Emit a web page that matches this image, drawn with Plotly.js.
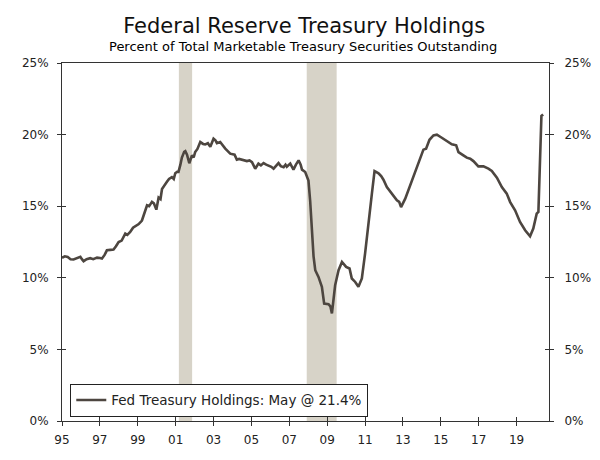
<!DOCTYPE html>
<html>
<head>
<meta charset="utf-8">
<script src="https://cdn.plot.ly/plotly-3.0.1.min.js"></script>
<style>html,body{margin:0;padding:0;background:#fff;}#chart{width:600px;height:460px;}</style>
</head>
<body>
<div id="chart"></div>
<script>
// Decimal-year dates and Fed share (%) of marketable Treasuries
const dates = [
 1995.0,1995.15,1995.3,1995.45,1995.61,1995.8,1995.97,1996.05,1996.14,1996.3,1996.49,1996.65,1996.85,
 1997.0,1997.11,1997.25,1997.37,1997.55,1997.72,1997.85,1997.99,1998.15,1998.34,1998.45,1998.6,1998.75,1998.87,
 1999.05,1999.22,1999.35,1999.49,1999.6,1999.75,1999.85,1999.98,2000.1,2000.2,2000.28,2000.4,2000.54,2000.65,
 2000.8,2000.9,2000.98,2001.08,2001.15,2001.25,2001.33,2001.45,2001.51,2001.6,2001.72,2001.86,2001.95,2002.03,
 2002.15,2002.3,2002.45,2002.56,2002.7,2002.83,2003.0,2003.1,2003.18,2003.35,2003.5,2003.62,2003.75,2003.88,
 2004.11,2004.23,2004.35,2004.5,2004.65,2004.76,2004.9,2005.03,2005.2,2005.3,2005.37,2005.5,2005.64,2005.78,
 2005.9,2006.05,2006.17,2006.3,2006.43,2006.55,2006.7,2006.8,2006.87,2007.05,2007.22,2007.35,2007.49,2007.6,
 2007.67,2007.84,2007.93,2008.01,2008.1,2008.19,2008.28,2008.37,2008.54,2008.72,2008.84,2009.07,2009.17,2009.25,
 2009.35,2009.42,2009.6,2009.78,2010.0,2010.18,2010.3,2010.48,2010.65,2010.83,2011.0,2011.18,2011.36,2011.5,
 2011.6,2011.71,2011.85,2011.97,2012.15,2012.32,2012.5,2012.68,2012.8,2012.9,2013.12,2013.38,2013.64,2013.91,
 2014.08,2014.22,2014.4,2014.61,2014.79,2015.05,2015.32,2015.58,2015.81,2015.93,2016.19,2016.37,2016.55,2016.72,
 2016.98,2017.25,2017.51,2017.69,2017.96,2018.22,2018.48,2018.66,2018.92,2019.18,2019.45,2019.71,2019.88,
 2020.06,2020.15,2020.25,2020.31,2020.4
];
const fedShare = [
 11.4,11.5,11.45,11.3,11.28,11.4,11.46,11.3,11.16,11.3,11.37,11.3,11.41,
 11.38,11.34,11.6,11.92,11.95,11.97,12.2,12.5,12.6,13.09,13.0,13.2,13.5,13.6,
 13.75,14.0,14.6,15.06,15.0,15.3,15.2,14.76,15.6,15.5,16.2,16.4,16.7,16.9,
 17.03,16.9,17.3,17.4,17.4,17.9,18.4,18.8,18.85,18.6,18.0,18.55,18.4,18.78,
 19.0,19.48,19.35,19.32,19.4,19.15,19.71,19.6,19.4,19.48,19.2,19.02,18.85,18.67,
 18.6,18.25,18.3,18.25,18.2,18.15,18.2,18.08,17.62,17.8,17.97,17.85,18.01,17.9,
 17.85,17.75,17.62,17.85,18.01,17.8,17.73,17.9,17.75,17.97,17.55,17.9,18.2,17.9,
 17.55,17.39,17.0,16.8,15.4,13.09,11.5,10.53,10.06,9.37,8.2,8.16,8.0,7.51,
 8.8,9.48,10.53,11.11,10.76,10.65,9.95,9.71,9.37,9.95,11.69,14.02,15.88,17.45,
 17.4,17.3,17.1,16.85,16.34,16.06,15.76,15.41,15.3,14.94,15.53,16.46,17.5,18.32,
 18.95,19.02,19.64,19.94,19.99,19.78,19.55,19.32,19.25,18.78,18.55,18.39,18.32,18.15,
 17.78,17.78,17.62,17.46,16.99,16.34,15.88,15.29,14.71,13.9,13.32,12.9,13.44,
 14.48,14.6,18.5,21.3,21.4
];
// Recessions (decimal years)
const recessionStart = [2001.17, 2007.92];
const recessionEnd   = [2001.87, 2009.5];
// Axis ticks
const xTickVals = [1995,1997,1999,2001,2003,2005,2007,2009,2011,2013,2015,2017,2019];
const xTickText = ['95','97','99','01','03','05','07','09','11','13','15','17','19'];
const yTickVals = [0,5,10,15,20,25];
const yTickText = ['0%','5%','10%','15%','20%','25%'];
const seriesName = 'Fed Treasury Holdings: May @ 21.4%';
const titleText = 'Federal Reserve Treasury Holdings';
const subtitleText = 'Percent of Total Marketable Treasury Securities Outstanding';

const FONT = 'DejaVu Sans, Verdana, sans-serif';
const AX = '#333333';
const xRange = [1995, 2020.71];
const yRange = [0, 25];

const traces = [{
  x: dates, y: fedShare, type: 'scatter', mode: 'lines', name: seriesName,
  line: {color: '#4d4640', width: 2.6}, hoverinfo: 'x+y'
}];
// invisible companions so the overlay (tick / right-side) axes get drawn
[['x2','y'],['x','y2'],['x','y3'],['x','y4']].forEach(([xa, ya]) => {
  traces.push({x: dates, y: fedShare, xaxis: xa, yaxis: ya, type: 'scatter', mode: 'lines',
    line: {width: 0, color: 'rgba(0,0,0,0)'}, showlegend: false, hoverinfo: 'skip'});
});

const shapes = recessionStart.map((s, i) => ({
  type: 'rect', xref: 'x', yref: 'paper', x0: s, x1: recessionEnd[i], y0: 0, y1: 1,
  fillcolor: '#d7d3c8', line: {width: 0}, layer: 'below'
}));

const baseY = {range: yRange, tickmode: 'array', tickvals: yTickVals, showgrid: false, zeroline: false, fixedrange: true};
const baseX = {range: xRange, tickmode: 'array', tickvals: xTickVals, showgrid: false, zeroline: false, fixedrange: true};

const layout = {
  width: 600, height: 460,
  margin: {l: 62, r: 51, t: 63, b: 39},
  paper_bgcolor: '#ffffff', plot_bgcolor: '#ffffff',
  font: {family: FONT, size: 12, color: '#222222'},
  showlegend: true,
  legend: {x: 0.017, y: 0.012, xanchor: 'left', yanchor: 'bottom', bgcolor: '#ffffff',
           bordercolor: '#222222', borderwidth: 1, itemwidth: 30,
           font: {family: FONT, size: 13.5, color: '#222222'}, tracegroupgap: 0},
  title: {text: titleText, x: 0.507, xanchor: 'center', y: 0.944, yanchor: 'middle',
          yref: 'container', font: {family: FONT, size: 21, color: '#111111'}},
  annotations: [{text: subtitleText, xref: 'paper', yref: 'paper', x: 0.494, y: 1.045,
          xanchor: 'center', yanchor: 'middle', showarrow: false,
          font: {family: FONT, size: 13, color: '#000000'}}],
  xaxis: Object.assign({}, baseX, {ticktext: xTickText, ticks: 'outside', ticklen: 4, tickcolor: AX,
          showline: true, linecolor: AX, linewidth: 1, mirror: true, ticklabelstandoff: 4,
          tickfont: {family: FONT, size: 12, color: '#222222'}}),
  xaxis2: Object.assign({}, baseX, {overlaying: 'x', anchor: 'y', side: 'bottom', ticks: 'inside', ticklen: 4,
          tickcolor: AX, showticklabels: false, showline: false}),
  yaxis: Object.assign({}, baseY, {ticktext: yTickText, ticks: 'outside', ticklen: 4, tickcolor: AX,
          showline: true, linecolor: AX, linewidth: 1, ticklabelstandoff: 6,
          tickfont: {family: FONT, size: 12, color: '#222222'}}),
  yaxis2: Object.assign({}, baseY, {overlaying: 'y', side: 'left', anchor: 'x', ticks: 'inside', ticklen: 4,
          tickcolor: AX, showticklabels: false, showline: false}),
  yaxis3: Object.assign({}, baseY, {overlaying: 'y', side: 'right', anchor: 'x', ticktext: yTickText, ticks: 'outside',
          ticklen: 4, tickcolor: AX, showline: true, linecolor: AX, linewidth: 1, ticklabelstandoff: 8,
          tickfont: {family: FONT, size: 12, color: '#222222'}}),
  yaxis4: Object.assign({}, baseY, {overlaying: 'y', side: 'right', anchor: 'x', ticks: 'inside', ticklen: 4,
          tickcolor: AX, showticklabels: false, showline: false}),
  shapes: shapes
};

Plotly.newPlot('chart', traces, layout, {displayModeBar: false, staticPlot: true});
</script>
</body>
</html>
